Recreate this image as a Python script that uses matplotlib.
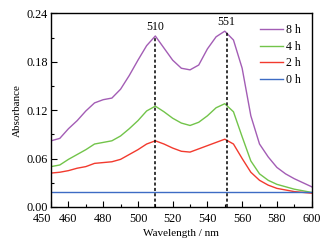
import numpy as np
import matplotlib
matplotlib.use("Agg")
import matplotlib.pyplot as plt
from matplotlib.ticker import MultipleLocator

plt.rcParams["font.family"] = ["Liberation Serif", "DejaVu Serif"]
plt.rcParams["font.size"] = 8.5

wl = [450, 455, 460, 465, 470, 475, 480, 485, 490, 495, 500, 505, 510, 515, 520,
      525, 530, 535, 540, 545, 550, 555, 560, 565, 570, 575, 580, 585, 590, 595, 600]

abs_8h = [0.082, 0.085, 0.097, 0.107, 0.119, 0.129, 0.133, 0.135, 0.146, 0.163, 0.182,
          0.200, 0.212, 0.197, 0.182, 0.172, 0.170, 0.176, 0.196, 0.211, 0.218, 0.207,
          0.172, 0.113, 0.078, 0.062, 0.049, 0.041, 0.035, 0.030, 0.025]
abs_4h = [0.050, 0.052, 0.059, 0.065, 0.071, 0.078, 0.080, 0.082, 0.088, 0.097, 0.107,
          0.119, 0.125, 0.118, 0.110, 0.104, 0.101, 0.105, 0.113, 0.123, 0.128, 0.118,
          0.087, 0.057, 0.041, 0.033, 0.028, 0.025, 0.022, 0.020, 0.018]
abs_2h = [0.042, 0.043, 0.045, 0.048, 0.050, 0.054, 0.055, 0.056, 0.059, 0.065, 0.071,
          0.078, 0.082, 0.078, 0.073, 0.069, 0.068, 0.072, 0.076, 0.080, 0.084, 0.078,
          0.060, 0.043, 0.033, 0.027, 0.023, 0.021, 0.019, 0.018, 0.017]
wl_0h = [450, 600]
abs_0h = [0.018, 0.018]

picos = [510, 551]
picos_abs = [0.212, 0.218]

series = [
    (wl, abs_8h, "8 h", "#A35DB5"),
    (wl, abs_4h, "4 h", "#72C44A"),
    (wl, abs_2h, "2 h", "#F23A2E"),
    (wl_0h, abs_0h, "0 h", "#3D6BC4"),
]

fig = plt.figure(figsize=(3.34, 2.44), dpi=100)
ax = fig.add_axes([0.153, 0.152, 0.780, 0.793])

for x, y, label, color in series:
    ax.plot(x, y, color=color, lw=1.0, label=label)

# Líneas punteadas en los máximos
for p, a in zip(picos, picos_abs):
    ax.plot([p, p], [0, a], color="black", ls=(0, (2, 1.5)), lw=1.1)
    ax.text(p, a + 0.004, str(p), ha="center", va="bottom")

ax.set_xlim(450, 600)
ax.set_ylim(0, 0.24)
ax.set_xticks([450, 460, 480, 500, 520, 540, 560, 580, 600])
ax.xaxis.set_minor_locator(MultipleLocator(10))
ax.set_yticks([0.0, 0.06, 0.12, 0.18, 0.24])
ax.set_yticklabels(["0.00", "0.06", "0.12", "0.18", "0.24"])
ax.yaxis.set_minor_locator(MultipleLocator(0.03))
ax.tick_params(which="both", direction="in", top=False, right=False)
ax.tick_params(which="major", length=4, width=0.8, labelsize=8.8)
ax.tick_params(axis="x", which="major", pad=4.5)
ax.tick_params(axis="y", which="major", pad=2.5)
ax.tick_params(which="minor", length=2.5, width=0.8)
ax.get_xticklabels()[0].set_horizontalalignment("right")
for s in ax.spines.values():
    s.set_linewidth(1.0)

ax.set_xlabel("Wavelength / nm", fontsize=8, labelpad=2.5)
ax.set_ylabel("Absorbance", fontsize=8, labelpad=3)

ax.legend(loc="upper right", bbox_to_anchor=(1.0, 1.0), frameon=False,
          handlelength=1.9, handletextpad=0.3, labelspacing=0.4, fontsize=8.5)

plt.savefig("out.png", dpi=100)
plt.close()
